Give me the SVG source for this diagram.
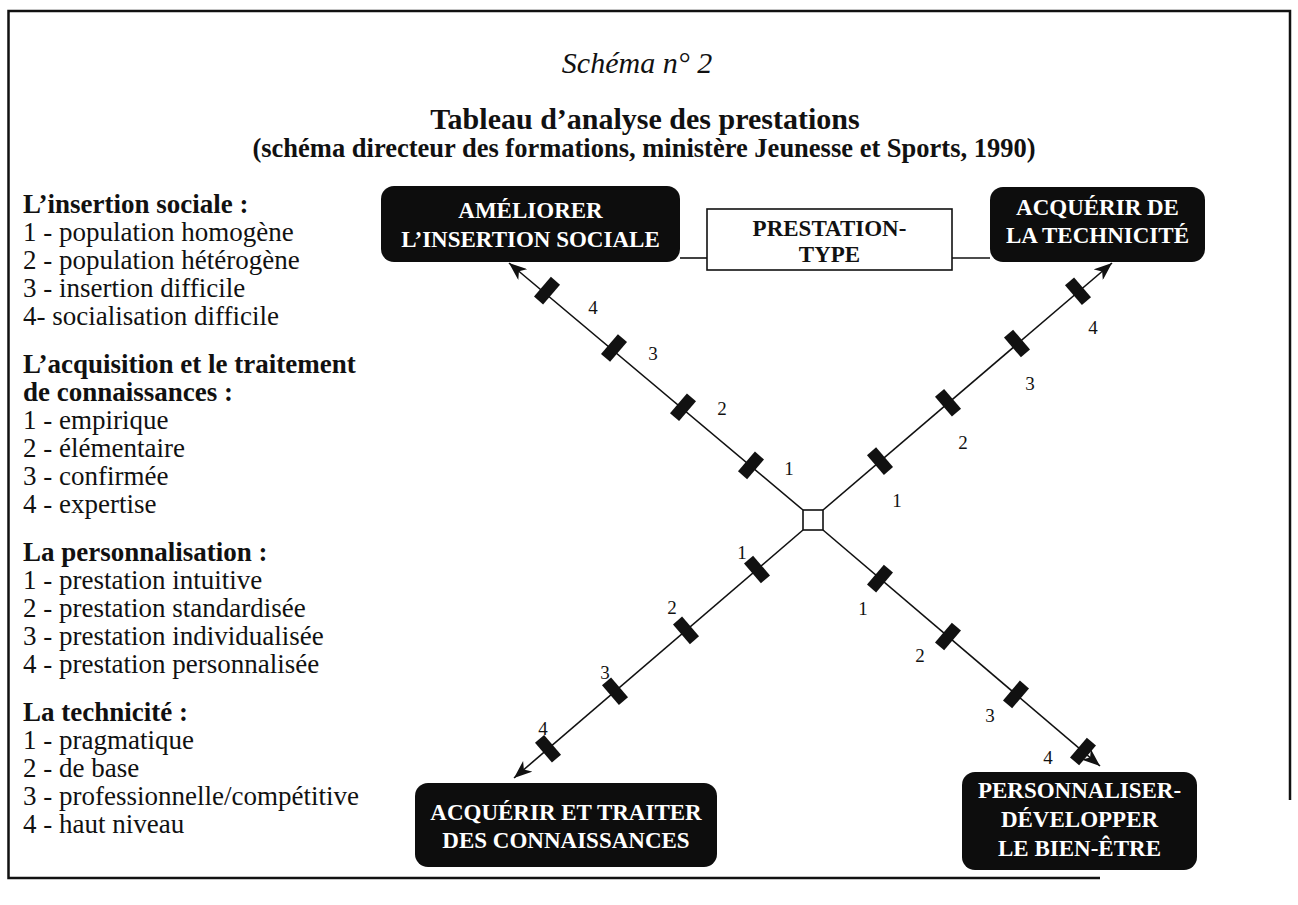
<svg xmlns="http://www.w3.org/2000/svg" xmlns:xlink="http://www.w3.org/1999/xlink" width="1298" height="905" viewBox="0 0 1298 905">
<style>
.serif{font-family:"Liberation Serif","Times New Roman",serif;}
.leg{font-family:"Liberation Serif","Times New Roman",serif;font-size:27px;fill:#111;}
.legb{font-family:"Liberation Serif","Times New Roman",serif;font-size:27px;font-weight:bold;fill:#111;}
.dark{fill:#0d0d0d;}
.darkt{font-family:"Liberation Serif","Times New Roman",serif;font-size:23px;font-weight:bold;fill:#fff;text-anchor:middle;}
.boxt{font-family:"Liberation Serif","Times New Roman",serif;font-size:23px;font-weight:bold;fill:#111;text-anchor:middle;}
.axis{stroke:#111;stroke-width:1.6;fill:none;}
.lbl{font-family:"Liberation Serif","Times New Roman",serif;font-size:19px;fill:#111;text-anchor:middle;}
.link{stroke:#111;stroke-width:1.6;fill:none;}
.frame{stroke:#111;stroke-width:2.5;fill:none;}
</style>
<defs>
<marker id="arr" markerUnits="userSpaceOnUse" markerWidth="20" markerHeight="14" refX="18" refY="7" orient="auto">
<path d="M0,0 L18,7 L0,14 L5,7 Z" fill="#111"/>
</marker>
<rect id="tick" x="-6" y="-13" width="12" height="26" fill="#111"/>
</defs>
<rect x="0" y="0" width="1298" height="905" fill="#fff"/>
<g id="frame">
<path class="frame" d="M1100,878 L8.5,878 L8.5,11 L1290,11 L1290,800"/>
</g>

<g id="title">
<text class="serif" x="637" y="73" font-size="30" font-style="italic" text-anchor="middle" fill="#111">Schéma n° 2</text>
<text class="serif" x="645" y="129" font-size="30" font-weight="bold" text-anchor="middle" fill="#111">Tableau d’analyse des prestations</text>
<text class="serif" x="644" y="157" font-size="26.5" font-weight="bold" text-anchor="middle" fill="#111">(schéma directeur des formations, ministère Jeunesse et Sports, 1990)</text>
</g>

<g id="legend">
<text class="legb" x="23" y="213">L’insertion sociale :</text>
<text class="leg" x="23" y="241">1 - population homogène</text>
<text class="leg" x="23" y="269">2 - population hétérogène</text>
<text class="leg" x="23" y="297">3 - insertion difficile</text>
<text class="leg" x="23" y="325">4- socialisation difficile</text>
<text class="legb" x="23" y="373">L’acquisition et le traitement</text>
<text class="legb" x="23" y="401">de connaissances :</text>
<text class="leg" x="23" y="429">1 - empirique</text>
<text class="leg" x="23" y="457">2 - élémentaire</text>
<text class="leg" x="23" y="485">3 - confirmée</text>
<text class="leg" x="23" y="513">4 - expertise</text>
<text class="legb" x="23" y="561">La personnalisation :</text>
<text class="leg" x="23" y="589">1 - prestation intuitive</text>
<text class="leg" x="23" y="617">2 - prestation standardisée</text>
<text class="leg" x="23" y="645">3 - prestation individualisée</text>
<text class="leg" x="23" y="673">4 - prestation personnalisée</text>
<text class="legb" x="23" y="721">La technicité :</text>
<text class="leg" x="23" y="749">1 - pragmatique</text>
<text class="leg" x="23" y="777">2 - de base</text>
<text class="leg" x="23" y="805">3 - professionnelle/compétitive</text>
<text class="leg" x="23" y="833">4 - haut niveau</text>
</g>

<g id="connectors">
<path class="link" d="M680,258 L707,258"/>
<path class="link" d="M952,258 L990,258"/>
<path class="axis" d="M803,510 L509,263" marker-end="url(#arr)"/>
<path class="axis" d="M823,510 L1112,263" marker-end="url(#arr)"/>
<path class="axis" d="M823,530 L1100,766" marker-end="url(#arr)"/>
<path class="axis" d="M803,530 L514,778" marker-end="url(#arr)"/>
<g id="ticks-nw">
<use xlink:href="#tick" transform="translate(751,465.4) rotate(40.6)"/>
<use xlink:href="#tick" transform="translate(683,407.2) rotate(40.6)"/>
<use xlink:href="#tick" transform="translate(614,348) rotate(40.6)"/>
<use xlink:href="#tick" transform="translate(547,290.6) rotate(40.6)"/>
<text class="lbl" x="789" y="474.5">1</text>
<text class="lbl" x="722" y="414.5">2</text>
<text class="lbl" x="653" y="359.5">3</text>
<text class="lbl" x="593" y="313.5">4</text>
</g>
<g id="ticks-ne">
<use xlink:href="#tick" transform="translate(880,461.1) rotate(-40.6)"/>
<use xlink:href="#tick" transform="translate(948,402.7) rotate(-40.6)"/>
<use xlink:href="#tick" transform="translate(1017,343.5) rotate(-40.6)"/>
<use xlink:href="#tick" transform="translate(1078,291.2) rotate(-40.6)"/>
<text class="lbl" x="897" y="506.5">1</text>
<text class="lbl" x="963" y="448.5">2</text>
<text class="lbl" x="1030" y="389.5">3</text>
<text class="lbl" x="1093" y="333.5">4</text>
</g>
<g id="ticks-se">
<use xlink:href="#tick" transform="translate(880,578.6) rotate(40.4)"/>
<use xlink:href="#tick" transform="translate(948,636.5) rotate(40.4)"/>
<use xlink:href="#tick" transform="translate(1016,694.4) rotate(40.4)"/>
<use xlink:href="#tick" transform="translate(1083,751.5) rotate(40.4)"/>
<text class="lbl" x="863" y="614.5">1</text>
<text class="lbl" x="920" y="661.5">2</text>
<text class="lbl" x="990" y="721.5">3</text>
<text class="lbl" x="1048" y="763.5">4</text>
</g>
<g id="ticks-sw">
<use xlink:href="#tick" transform="translate(757,569.5) rotate(-40.6)"/>
<use xlink:href="#tick" transform="translate(686,630.4) rotate(-40.6)"/>
<use xlink:href="#tick" transform="translate(615,691.3) rotate(-40.6)"/>
<use xlink:href="#tick" transform="translate(548,748.8) rotate(-40.6)"/>
<text class="lbl" x="742" y="558.5">1</text>
<text class="lbl" x="672" y="613.5">2</text>
<text class="lbl" x="605" y="678.5">3</text>
<text class="lbl" x="543" y="734.5">4</text>
</g>
</g>

<g id="center">
<rect x="803" y="510" width="20" height="20" fill="#fff" stroke="#111" stroke-width="1.6"/>
</g>

<g id="node-insertion">
<rect class="dark" x="381" y="186" width="299" height="76" rx="13"/>
<text class="darkt" x="530.5" y="218">AMÉLIORER</text>
<text class="darkt" x="530.5" y="247">L’INSERTION SOCIALE</text>
</g>

<g id="node-prestation">
<rect x="707" y="209" width="245" height="61" fill="#fff" stroke="#111" stroke-width="1.6"/>
<text class="boxt" x="829.5" y="236">PRESTATION-</text>
<text class="boxt" x="829.5" y="262">TYPE</text>
</g>

<g id="node-technicite">
<rect class="dark" x="990" y="187" width="215" height="75" rx="13"/>
<text class="darkt" x="1097.5" y="215">ACQUÉRIR DE</text>
<text class="darkt" x="1097.5" y="243">LA TECHNICITÉ</text>
</g>

<g id="node-connaissances">
<rect class="dark" x="415" y="783" width="302" height="84" rx="13"/>
<text class="darkt" x="566" y="820">ACQUÉRIR ET TRAITER</text>
<text class="darkt" x="566" y="848">DES CONNAISSANCES</text>
</g>

<g id="node-bienetre">
<rect class="dark" x="962" y="772" width="235" height="98" rx="13"/>
<text class="darkt" x="1079.5" y="798">PERSONNALISER-</text>
<text class="darkt" x="1079.5" y="827">DÉVELOPPER</text>
<text class="darkt" x="1079.5" y="856">LE BIEN-ÊTRE</text>
</g>
</svg>
